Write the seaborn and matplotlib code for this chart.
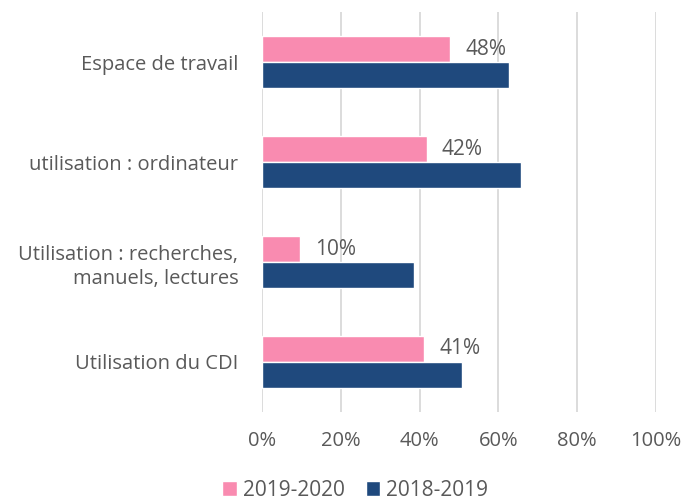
import pandas as pd
import matplotlib.pyplot as plt
import seaborn as sns

# Données
categories = ['Espace de travail', 'utilisation : ordinateur',
              'Utilisation : recherches,\nmanuels, lectures', 'Utilisation du CDI']
series = ['2019-2020', '2018-2019']
val_2019_2020 = [47.7, 41.8, 9.6, 41.1]
val_2018_2019 = [62.8, 65.7, 38.7, 50.8]
couleurs = ['#f98bb0', '#1f497d']

df = pd.DataFrame({
    'Categorie': categories * 2,
    'Annee': [series[0]] * 4 + [series[1]] * 4,
    'Valeur': val_2019_2020 + val_2018_2019,
})

sns.set_style('white')
plt.rcParams['font.family'] = ['Open Sans', 'DejaVu Sans']
gris = '#595959'

fig = plt.figure(figsize=(6.83, 5.03), dpi=100)
ax = fig.add_axes([0.3836, 0.181, 0.5769, 0.795])
sns.barplot(data=df, y='Categorie', x='Valeur', hue='Annee', orient='h',
            palette=couleurs, width=0.52, gap=0, errorbar=None, ax=ax,
            saturation=1, legend=True)

# Étiquettes uniquement sur la série 2019-2020
ax.bar_label(ax.containers[0], labels=[f'{v:.0f}%' for v in val_2019_2020],
             padding=11, fontsize=15, color=gris)

ax.set_xlim(0, 100)
ax.set_xticks(range(0, 101, 20))
ax.set_xticklabels([f'{t}%' for t in range(0, 101, 20)])
ax.set_ylim(3.5, -0.5)
ax.grid(axis='x', color='#d9d9d9', linewidth=1.3)
ax.set_axisbelow(True)
for s in ax.spines.values():
    s.set_visible(False)
ax.tick_params(axis='both', length=0, labelsize=14.5, colors=gris)
ax.tick_params(axis='x', pad=14)
ax.tick_params(axis='y', pad=17)
for lbl in ax.get_yticklabels():
    lbl.set_linespacing(1.3)
ax.set_xlabel('')
ax.set_ylabel('')

handles, labels = ax.get_legend_handles_labels()
ax.get_legend().remove()
fig.legend(handles, labels, loc='lower center', bbox_to_anchor=(0.52, -0.033),
           ncol=2, frameon=False, fontsize=15, labelcolor=gris,
           handlelength=0.7, handleheight=0.7, handletextpad=0.3, columnspacing=1.0)

plt.savefig('out.png', dpi=100)
